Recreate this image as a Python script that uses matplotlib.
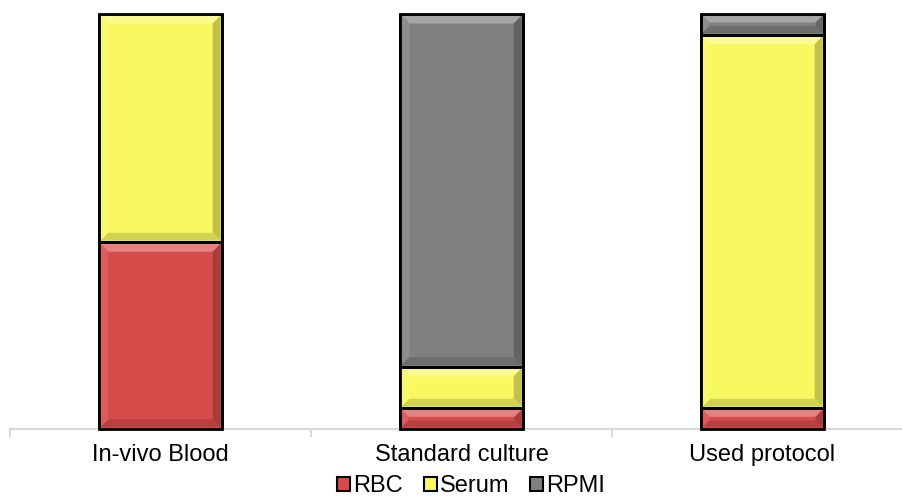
import numpy as np
import matplotlib
matplotlib.use("Agg")
import matplotlib.pyplot as plt
from matplotlib.patches import Polygon, Patch
from matplotlib.colors import to_rgb

plt.rcParams['font.family'] = ['Liberation Sans', 'DejaVu Sans']

categories = ["In-vivo Blood", "Standard culture", "Used protocol"]
series_names = ["RBC", "Serum", "RPMI"]
rbc = [45, 5, 5]
serum = [55, 10, 90]
rpmi = [0, 85, 5]
colors = ["#d84b4b", "#f8f860", "#808080"]

fig = plt.figure(figsize=(9.02, 4.97), dpi=100)
W, H = 902, 497
ax = fig.add_axes([10 / W, 1 - 429 / H, 892 / W, (429 - 14) / H])

x = np.arange(len(categories))
bar_w = 0.41
bottoms = np.zeros(len(categories))
all_bars = []
for name, vals, col in zip(series_names, [rbc, serum, rpmi], colors):
    bars = ax.bar(x, vals, bar_w, bottom=bottoms, color=col, edgecolor="black",
                  linewidth=2.0, label=name, zorder=2)
    all_bars.append((bars, col))
    bottoms = bottoms + np.array(vals)

ax.set_yticks([])
for s in ["top", "right", "left"]:
    ax.spines[s].set_visible(False)
ax.spines["bottom"].set_color("#d9d9d9")
ax.spines["bottom"].set_linewidth(1.5)
ax.set_xticks(np.arange(-0.5, 2.5, 1.0), minor=False)
ax.set_xticklabels([])
ax.set_xticks(x, minor=True)
ax.set_xticklabels(categories, minor=True, fontsize=17)
ax.tick_params(axis="x", which="major", length=6, color="#d9d9d9", width=1.5)
ax.tick_params(axis="x", which="minor", length=0, pad=11)
ax.set_xlim(-0.5, -0.5 + 892 / 301)
ax.set_ylim(0, 100)


def shade(c, f):
    r = np.array(to_rgb(c))
    if f >= 0:
        return tuple(r + (1 - r) * f)
    return tuple(r * (1 + f))


# bevelled look on each bar segment, built from the bar geometry in pixels
fig.canvas.draw()
bev = 8
for bars, col in all_bars:
    for p in bars:
        if p.get_height() <= 0:
            continue
        bb = p.get_window_extent()
        x0, x1, y0, y1 = bb.x0 + 1.5, bb.x1 - 1.5, bb.y0 + 1.5, bb.y1 - 1.5
        b = min(bev, (y1 - y0) / 2.5)
        faces = [
            ([(x0, y1), (x1, y1), (x1 - b, y1 - b), (x0 + b, y1 - b)], 0.3),
            ([(x0, y0), (x0, y1), (x0 + b, y1 - b), (x0 + b, y0 + b)], 0.1),
            ([(x1, y0), (x1, y1), (x1 - b, y1 - b), (x1 - b, y0 + b)], -0.22),
            ([(x0, y0), (x1, y0), (x1 - b, y0 + b), (x0 + b, y0 + b)], -0.15),
        ]
        for pts, f in faces:
            fig.patches.append(Polygon(pts, closed=True, transform=None,
                                       facecolor=shade(col, f), edgecolor="none",
                                       zorder=3, figure=fig))
        # redraw outline on top
        fig.patches.append(Polygon([(bb.x0, bb.y0), (bb.x1, bb.y0), (bb.x1, bb.y1), (bb.x0, bb.y1)],
                                   closed=True, transform=None, facecolor="none",
                                   edgecolor="black", linewidth=2.0, zorder=4, figure=fig))

handles = [Patch(facecolor=c, edgecolor="black", linewidth=1.5) for c in colors]
fig.legend(handles, series_names, loc="center", bbox_to_anchor=(471 / W, 1 - 486 / H),
           ncol=3, frameon=False, fontsize=17, handlelength=0.55, handleheight=0.55,
           handletextpad=0.12, columnspacing=0.9, borderpad=0)

fig.savefig("out.png", dpi=100)
